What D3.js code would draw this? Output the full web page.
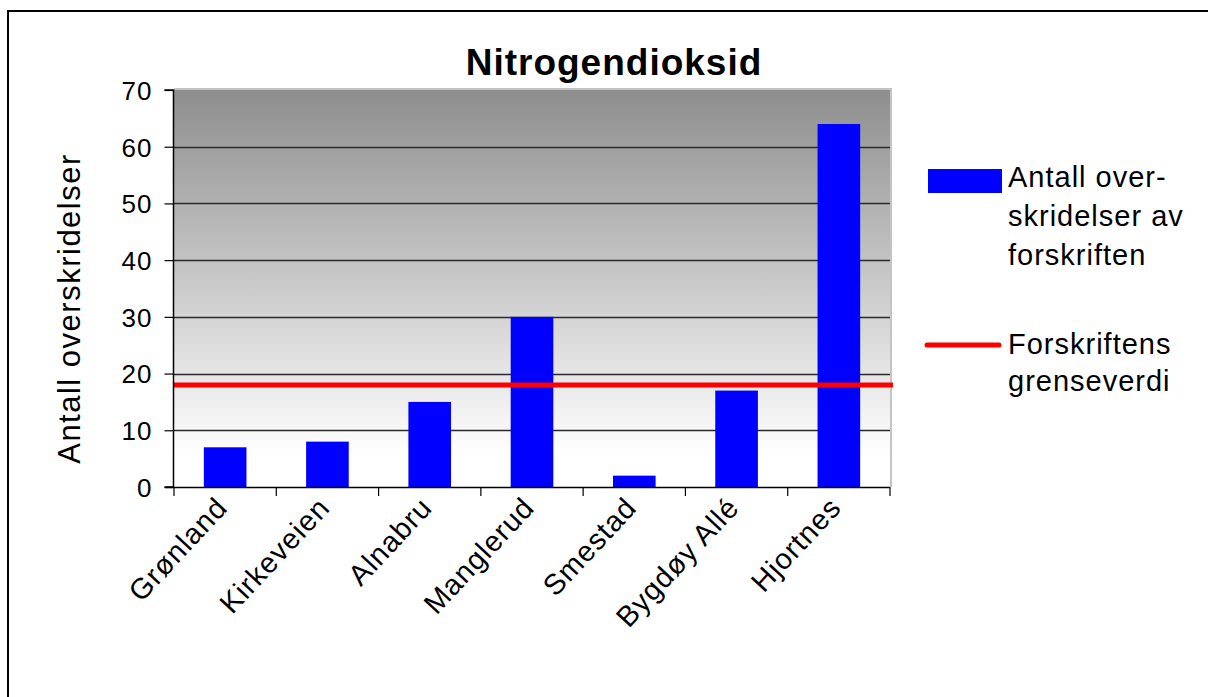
<!DOCTYPE html>
<html>
<head>
<meta charset="utf-8">
<script src="https://cdn.jsdelivr.net/npm/d3@7/dist/d3.min.js"></script>
<style>
  html, body { margin: 0; padding: 0; background: #fff; }
  svg { display: block; font-family: "Liberation Sans", Arial, sans-serif; }
</style>
</head>
<body>
<svg id="chart" width="1208" height="697"></svg>
<script>
const title = "Nitrogendioksid";
const yAxisTitle = "Antall overskridelser";
const categories = ["Grønland", "Kirkeveien", "Alnabru", "Manglerud", "Smestad", "Bygdøy Allé", "Hjortnes"];
const exceedances = [7, 8, 15, 30, 2, 17, 64];
const limitValue = 18;
const yTicks = [0, 10, 20, 30, 40, 50, 60, 70];
const legendBarLabel = ["Antall over-", "skridelser av", "forskriften"];
const legendLineLabel = ["Forskriftens", "grenseverdi"];

const svg = d3.select("#chart");
const plot = { left: 174, right: 890, top: 90, bottom: 487 };

// outer frame
svg.append("path")
  .attr("d", "M8,697 L8,11 L1208,11")
  .attr("fill", "none").attr("stroke", "#000").attr("stroke-width", 2);

// gradient
const defs = svg.append("defs");
const grad = defs.append("linearGradient").attr("id", "bg")
  .attr("x1", 0).attr("y1", 0).attr("x2", 0).attr("y2", 1);
grad.append("stop").attr("offset", "0").attr("stop-color", "#8e8e8e");
grad.append("stop").attr("offset", "0.92").attr("stop-color", "#ffffff");
grad.append("stop").attr("offset", "1").attr("stop-color", "#ffffff");

const x = d3.scaleBand().domain(categories)
  .range([plot.left, plot.right]).paddingInner(1.4 / 2.4).paddingOuter(0.7 / 2.4);
const y = d3.scaleLinear().domain([0, 70]).range([plot.bottom, plot.top]);

svg.append("rect")
  .attr("x", plot.left).attr("y", plot.top)
  .attr("width", plot.right - plot.left).attr("height", plot.bottom - plot.top)
  .attr("fill", "url(#bg)");
// plot border (top/right light gray)
svg.append("path")
  .attr("d", `M${plot.left},${plot.top - 1} L${plot.right + 1},${plot.top - 1} L${plot.right + 1},${plot.bottom}`)
  .attr("fill", "none").attr("stroke", "#c4c4c4").attr("stroke-width", 2);

// gridlines
svg.append("g").selectAll("line")
  .data(yTicks.filter(t => t > 0 && t < 70))
  .join("line")
  .attr("x1", plot.left).attr("x2", plot.right)
  .attr("y1", d => Math.round(y(d)) + 0.5).attr("y2", d => Math.round(y(d)) + 0.5)
  .attr("stroke", "#2a2a2a").attr("stroke-width", 1.3);

// bars
svg.append("g").selectAll("rect")
  .data(categories.map((c, i) => ({ c, v: exceedances[i] })))
  .join("rect")
  .attr("x", d => x(d.c)).attr("width", x.bandwidth())
  .attr("y", d => y(d.v)).attr("height", d => y(0) - y(d.v))
  .attr("fill", "#0000ff");

// limit line
svg.append("line")
  .attr("x1", plot.left - 1).attr("x2", plot.right + 3)
  .attr("y1", y(limitValue)).attr("y2", y(limitValue))
  .attr("stroke", "#ff0000").attr("stroke-width", 5);

// y axis
const yAxis = d3.axisLeft(y).tickValues(yTicks).tickSize(9).tickPadding(12);
const gy = svg.append("g").attr("transform", `translate(${plot.left - 0.5},0)`).call(yAxis);
gy.select(".domain").attr("stroke", "#000").attr("stroke-width", 1.5).attr("d", `M-9,${plot.top}H0V${plot.bottom}H-9`);
gy.selectAll(".tick line").attr("stroke", "#000").attr("stroke-width", 1.2);
gy.selectAll(".tick text")
  .attr("font-family", "Liberation Sans, Arial, sans-serif")
  .attr("font-size", 26).attr("fill", "#000")
  .style("letter-spacing", "1px")
  .attr("dy", "0.36em");

// x axis
const tickPositions = categories.map(c => x(c) - x.step() * x.paddingInner() / 2 ).concat([plot.right]);
const gx = svg.append("g");
gx.append("line").attr("x1", plot.left - 9).attr("x2", plot.right)
  .attr("y1", plot.bottom + 0.5).attr("y2", plot.bottom + 0.5)
  .attr("stroke", "#000").attr("stroke-width", 1.5);
gx.selectAll("line.t").data(tickPositions).join("line").attr("class", "t")
  .attr("x1", d => d).attr("x2", d => d)
  .attr("y1", plot.bottom).attr("y2", plot.bottom + 9)
  .attr("stroke", "#000").attr("stroke-width", 1.2);
gx.selectAll("text").data(categories).join("text")
  .attr("transform", d => `translate(${x(d) + x.bandwidth() / 2 + 4},${plot.bottom + 22}) rotate(-47)`)
  .attr("text-anchor", "end")
  .attr("font-size", 29)
  .style("letter-spacing", "1px")
  .text(d => d);

// y axis title
svg.append("text")
  .attr("transform", `translate(80,${(plot.top + plot.bottom) / 2 + 20}) rotate(-90)`)
  .attr("text-anchor", "middle")
  .attr("font-size", 31)
  .style("letter-spacing", "1.5px")
  .text(yAxisTitle);

// title
svg.append("text")
  .attr("x", 614).attr("y", 75)
  .attr("text-anchor", "middle")
  .attr("font-size", 37).attr("font-weight", "bold")
  .style("letter-spacing", "1px")
  .text(title);

// legend
const lg = svg.append("g");
lg.append("rect").attr("x", 928).attr("y", 169).attr("width", 74).attr("height", 24).attr("fill", "#0000ff");
lg.append("text").attr("x", 1008).attr("font-size", 29).style("letter-spacing", "1px")
  .selectAll("tspan").data(legendBarLabel).join("tspan")
  .attr("x", 1008).attr("y", (d, i) => 187 + i * 39).text(d => d);
lg.append("line").attr("x1", 927).attr("x2", 999).attr("y1", 345).attr("y2", 345)
  .attr("stroke", "#ff0000").attr("stroke-width", 5).attr("stroke-linecap", "round");
lg.append("text").attr("x", 1008).attr("font-size", 29).style("letter-spacing", "1px")
  .selectAll("tspan").data(legendLineLabel).join("tspan")
  .attr("x", 1008).attr("y", (d, i) => 354 + i * 37).text(d => d);
</script>
</body>
</html>
